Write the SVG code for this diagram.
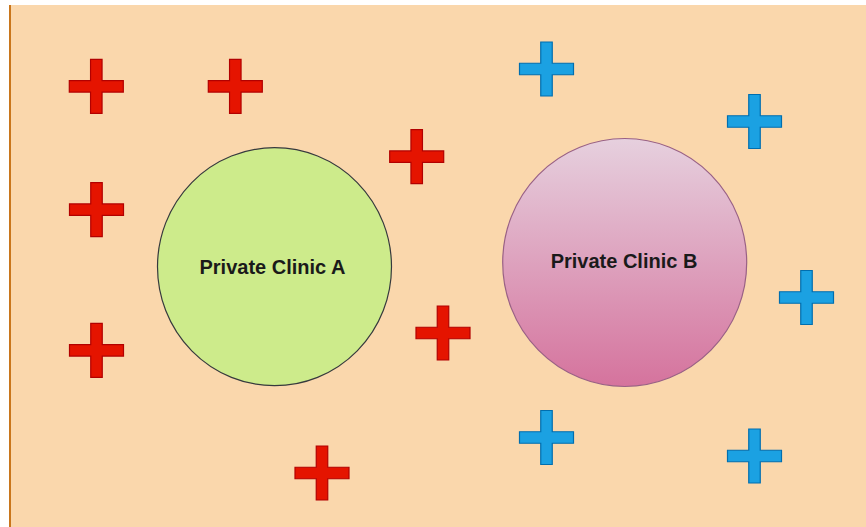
<svg xmlns="http://www.w3.org/2000/svg" width="866" height="527" viewBox="0 0 866 527">
  <style>
    .bg { fill: #fad7ac; }
    .edge { stroke: #c9761c; stroke-width: 2; }
    .red { fill: #e51400; stroke: #b20000; stroke-width: 1.2; }
    .blue { fill: #1ba1e2; stroke: #006eaf; stroke-width: 1.2; }
    .clinic-a { fill: #cdeb8b; stroke: #36393d; stroke-width: 1.2; }
    .clinic-b { fill: url(#gradB); stroke: #996185; stroke-width: 1.2; }
    .label { font-family: "Liberation Sans", Arial, sans-serif; font-size: 20px; font-weight: bold; fill: #1a1a1a; text-anchor: middle; }
  </style>
  <defs>
    <linearGradient id="gradB" x1="0" y1="0" x2="0" y2="1">
      <stop offset="0" stop-color="#e6d0de"/>
      <stop offset="1" stop-color="#d5739d"/>
    </linearGradient>
    <!-- plus sign, 54 x 54, centred on the origin -->
    <path id="plus" d="M-5.75,-27 h11.5 v21.25 h21.25 v11.5 h-21.25 v21.25 h-11.5 v-21.25 h-21.25 v-11.5 h21.25 z"/>
  </defs>

  <rect width="866" height="527" fill="#ffffff"/>
  <rect class="bg" x="10" y="5" width="870" height="530"/>
  <line class="edge" x1="10" y1="5" x2="10" y2="527"/>

  <g id="clinic-a">
    <ellipse class="clinic-a" cx="274.5" cy="266.7" rx="117" ry="119"/>
    <text class="label" x="272.5" y="273.5">Private Clinic A</text>
  </g>

  <g id="clinic-b">
    <ellipse class="clinic-b" cx="624.7" cy="262.5" rx="122" ry="124"/>
    <text class="label" x="624" y="267.5">Private Clinic B</text>
  </g>

  <g id="red-marks">
    <use href="#plus" class="red" x="96.3" y="86.3"/>
    <use href="#plus" class="red" x="235.3" y="86.3"/>
    <use href="#plus" class="red" x="416.7" y="156.7"/>
    <use href="#plus" class="red" x="96.5" y="209.7"/>
    <use href="#plus" class="red" x="96.5" y="350.3"/>
    <use href="#plus" class="red" x="443" y="333"/>
    <use href="#plus" class="red" x="322" y="473"/>
  </g>

  <g id="blue-marks">
    <use href="#plus" class="blue" x="546.5" y="69"/>
    <use href="#plus" class="blue" x="754.5" y="121.5"/>
    <use href="#plus" class="blue" x="806.5" y="297.5"/>
    <use href="#plus" class="blue" x="546.5" y="437.5"/>
    <use href="#plus" class="blue" x="754.5" y="456"/>
  </g>
</svg>
